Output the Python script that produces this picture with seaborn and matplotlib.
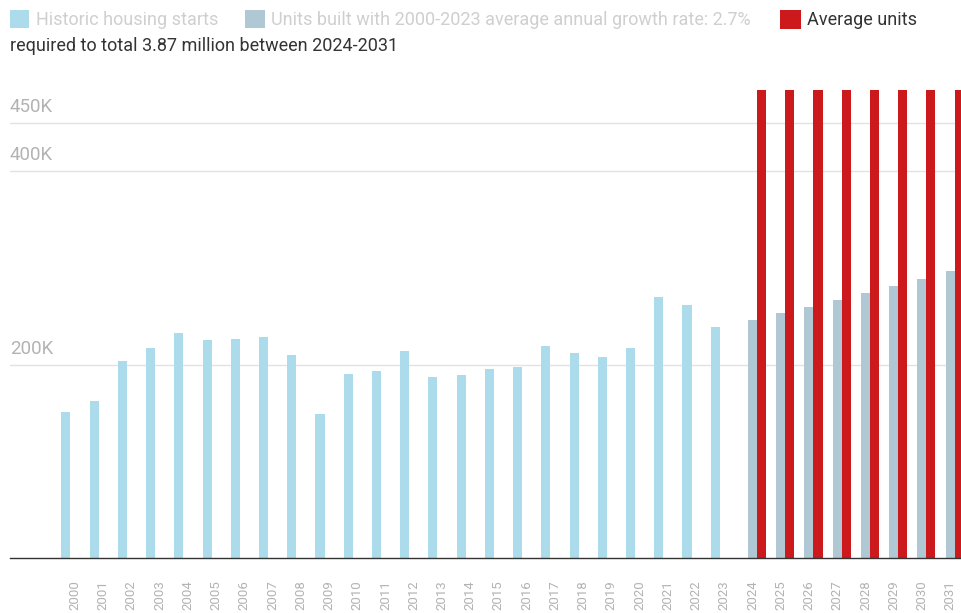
import matplotlib
matplotlib.use("Agg")
import matplotlib.pyplot as plt
from matplotlib.patches import Rectangle
import matplotlib.transforms as mtrans
import seaborn as sns
import pandas as pd

# ---- data ----
years = [str(y) for y in range(2000, 2032)]
hist_years = [str(y) for y in range(2000, 2024)]
hist_values = [151000, 162000, 204000, 217000, 233000, 225000, 226000, 228000,
               210000, 149000, 190000, 193000, 214000, 187000, 189000, 195000,
               197000, 219000, 212000, 208000, 217000, 270000, 261000, 239000]
proj_years = [str(y) for y in range(2024, 2032)]
growth_values = [246000, 252800, 259500, 266500, 273800, 281300, 288500, 296500]
required_values = [483750] * 8

series_names = ["Historic housing starts",
                "Units built with 2000-2023 average annual growth rate: 2.7%",
                "Average units required to total 3.87 million between 2024-2031"]
colors = ["#acdcec", "#afc8d4", "#cc1a1c"]
ytick_vals = [200000, 400000, 450000]
ytick_labels = ["200K", "400K", "450K"]

rows = []
for y, v in zip(hist_years, hist_values):
    rows.append((y, series_names[0], v))
for y, v in zip(proj_years, growth_values):
    rows.append((y, series_names[1], v))
for y, v in zip(proj_years, required_values):
    rows.append((y, series_names[2], v))
df = pd.DataFrame(rows, columns=["year", "series", "value"])

sns.set_style("white")
plt.rcParams["font.family"] = ["Roboto", "DejaVu Sans"]

W, H = 962, 613
fig = plt.figure(figsize=(W / 100, H / 100), dpi=100)
ax = fig.add_axes([10 / W, 1 - 558 / H, 1 - 10 / W, (558 - 90) / H])

sns.barplot(data=df, x="year", y="value", hue="series", order=years,
            hue_order=series_names, palette=colors, width=0.96,
            dodge=True, legend=False, ax=ax, saturation=1, linewidth=0)

ax.set_xlim(-2.30, 31.42)
ax.set_ylim(0, 483750)
ax.set_xlabel("")
ax.set_ylabel("")
ax.set_yticks(ytick_vals)
ax.set_yticklabels([])
ax.tick_params(axis="y", length=0)
ax.grid(axis="y", color="#e2e2e2", linewidth=1)
ax.set_axisbelow(True)
for s in ["top", "right", "left"]:
    ax.spines[s].set_visible(False)
ax.spines["bottom"].set_color("#333333")
ax.spines["bottom"].set_linewidth(1.0)

ax.tick_params(axis="x", length=5, width=1, color="#333333", pad=11,
               labelsize=9.5, labelcolor="#b3b3b3")
for lab in ax.get_xticklabels():
    lab.set_rotation(90)

trans = mtrans.blended_transform_factory(ax.transAxes, ax.transData)
off = mtrans.offset_copy(trans, fig=fig, x=0, y=7, units="dots")
for v, t in zip(ytick_vals, ytick_labels):
    ax.text(0, v, t, transform=off, ha="left", va="bottom",
            fontsize=13.5, color="#b3b3b3")

# ---- legend (manual, wrapped) ----
def fig_rect(x0, y0, w, h, c):
    fig.patches.append(Rectangle((x0 / W, 1 - (y0 + h) / H), w / W, h / H,
                                 transform=fig.transFigure, facecolor=c,
                                 edgecolor="none"))

fs = 13
fig_rect(10, 10, 19, 18, colors[0])
fig.text(36 / W, 1 - 25 / H, "Historic housing starts", fontsize=fs,
         color="#cfcfcf", va="baseline", ha="left")
fig_rect(245, 10, 20, 18, colors[1])
fig.text(271 / W, 1 - 25 / H,
         "Units built with 2000-2023 average annual growth rate: 2.7%",
         fontsize=fs, color="#cfcfcf", va="baseline", ha="left")
fig_rect(780, 10, 21, 19, colors[2])
fig.text(807 / W, 1 - 25 / H, "Average units", fontsize=fs,
         color="#333333", va="baseline", ha="left")
fig.text(10 / W, 1 - 51 / H,
         "required to total 3.87 million between 2024-2031", fontsize=fs,
         color="#333333", va="baseline", ha="left")

fig.savefig("out.png", dpi=100)
